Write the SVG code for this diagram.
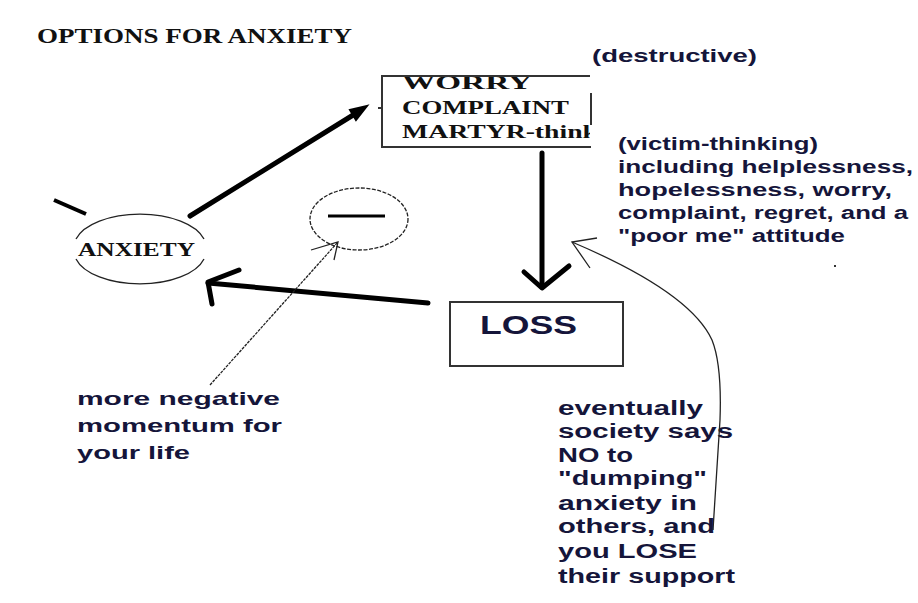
<svg xmlns="http://www.w3.org/2000/svg" width="918" height="603" viewBox="0 0 918 603">
<defs>
<style>
.serif{font-family:"Liberation Serif","Times New Roman",serif;font-weight:bold;fill:#111;}
.sans{font-family:"Liberation Sans",Arial,sans-serif;font-weight:bold;fill:#15153a;}
.thick{fill:none;stroke:#000;stroke-width:5;stroke-linecap:round;stroke-linejoin:round;}
.thin{fill:none;stroke:#222;stroke-width:1.3;}
.box{fill:none;stroke:#333;stroke-width:2;}
</style>
<clipPath id="wclip"><rect x="383" y="77" width="207" height="70"/></clipPath>
</defs>
<rect width="918" height="603" fill="#fff"/>

<g id="title">
<text class="serif" x="37" y="43" font-size="21" textLength="315" lengthAdjust="spacingAndGlyphs">OPTIONS FOR ANXIETY</text>
</g>

<g id="worry-box">
<path class="box" d="M590,76 L382,76 L382,147 L591,147"/>
<path class="box" d="M382,108 L378,108"/>
<path class="box" d="M591,93 L591,125"/>
<g clip-path="url(#wclip)">
<text class="serif" x="402" y="89" font-size="19" textLength="130" lengthAdjust="spacingAndGlyphs">WORRY</text>
<text class="serif" x="402" y="114" font-size="19" textLength="167" lengthAdjust="spacingAndGlyphs">COMPLAINT</text>
<text class="serif" x="402" y="138" font-size="19" textLength="196" lengthAdjust="spacingAndGlyphs">MARTYR-think</text>
</g>
</g>

<g id="destructive-label">
<text class="sans" x="592" y="62" font-size="19" textLength="165" lengthAdjust="spacingAndGlyphs">(destructive)</text>
</g>

<g id="victim-label">
<text class="sans" font-size="18" x="618" y="150" textLength="200" lengthAdjust="spacingAndGlyphs">(victim-thinking)</text>
<text class="sans" font-size="18" x="618" y="173" textLength="295" lengthAdjust="spacingAndGlyphs">including helplessness,</text>
<text class="sans" font-size="18" x="618" y="196" textLength="274" lengthAdjust="spacingAndGlyphs">hopelessness, worry,</text>
<text class="sans" font-size="18" x="618" y="219" textLength="290" lengthAdjust="spacingAndGlyphs">complaint, regret, and a</text>
<text class="sans" font-size="18" x="618" y="242" textLength="227" lengthAdjust="spacingAndGlyphs">"poor me" attitude</text>
<rect x="834" y="265" width="2" height="2" fill="#333"/>
</g>

<g id="anxiety">
<path class="thin" d="M76,239 A66,33 0 0 1 204,239"/>
<path class="thin" d="M76,259 A66,33 0 0 0 204,259"/>
<text class="serif" x="78" y="256" font-size="18" textLength="117" lengthAdjust="spacingAndGlyphs">ANXIETY</text>
<path d="M54,200 L86,214" stroke="#000" stroke-width="4" fill="none"/>
</g>

<g id="minus">
<ellipse cx="359" cy="219" rx="49" ry="31" fill="none" stroke="#222" stroke-width="1.3" stroke-dasharray="4 1.5"/>
<path d="M328,216 L385,216" stroke="#000" stroke-width="3"/>
</g>

<g id="loss">
<rect class="box" x="450" y="302" width="173" height="64"/>
<text class="sans" x="480" y="334" font-size="26" textLength="97" lengthAdjust="spacingAndGlyphs">LOSS</text>
</g>

<g id="momentum-label">
<text class="sans" font-size="19" x="77" y="405" textLength="203" lengthAdjust="spacingAndGlyphs">more negative</text>
<text class="sans" font-size="19" x="77" y="432" textLength="205" lengthAdjust="spacingAndGlyphs">momentum for</text>
<text class="sans" font-size="19" x="77" y="459" textLength="113" lengthAdjust="spacingAndGlyphs">your life</text>
</g>

<g id="society-label">
<text class="sans" font-size="20" x="558" y="415" textLength="145" lengthAdjust="spacingAndGlyphs">eventually</text>
<text class="sans" font-size="20" x="558" y="438" textLength="175" lengthAdjust="spacingAndGlyphs">society says</text>
<text class="sans" font-size="20" x="558" y="462" textLength="75" lengthAdjust="spacingAndGlyphs">NO to</text>
<text class="sans" font-size="20" x="558" y="485" textLength="149" lengthAdjust="spacingAndGlyphs">"dumping"</text>
<text class="sans" font-size="20" x="558" y="510" textLength="139" lengthAdjust="spacingAndGlyphs">anxiety in</text>
<text class="sans" font-size="20" x="558" y="533" textLength="157" lengthAdjust="spacingAndGlyphs">others, and</text>
<text class="sans" font-size="20" x="558" y="558" textLength="139" lengthAdjust="spacingAndGlyphs">you LOSE</text>
<text class="sans" font-size="20" x="558" y="583" textLength="177" lengthAdjust="spacingAndGlyphs">their support</text>
</g>

<g id="connectors">
<!-- anxiety to worry -->
<path class="thick" d="M190,216 L358,112"/>
<polygon points="367,106 350,110 356,120" fill="#000" stroke="#000" stroke-width="2"/>
<!-- worry to loss -->
<path class="thick" d="M542,153 L542,287"/>
<path class="thick" d="M524,272 L542,288 L569,266"/>
<!-- loss to anxiety -->
<path class="thick" d="M428,303 L208,283"/>
<path class="thick" d="M239,270 L208,282 L212,304"/>
<!-- momentum label to minus -->
<path class="thin" d="M210,385 L338,242" stroke-dasharray="3 1"/>
<path class="thin" d="M311,250 L338,242 L334,260"/>
<!-- society label to victim text -->
<path class="thin" d="M713,530 L720,420 Q722,365 712,340 Q690,292 572,242"/>
<path class="thin" d="M597,238 L572,242 L590,268"/>
</g>
</svg>
